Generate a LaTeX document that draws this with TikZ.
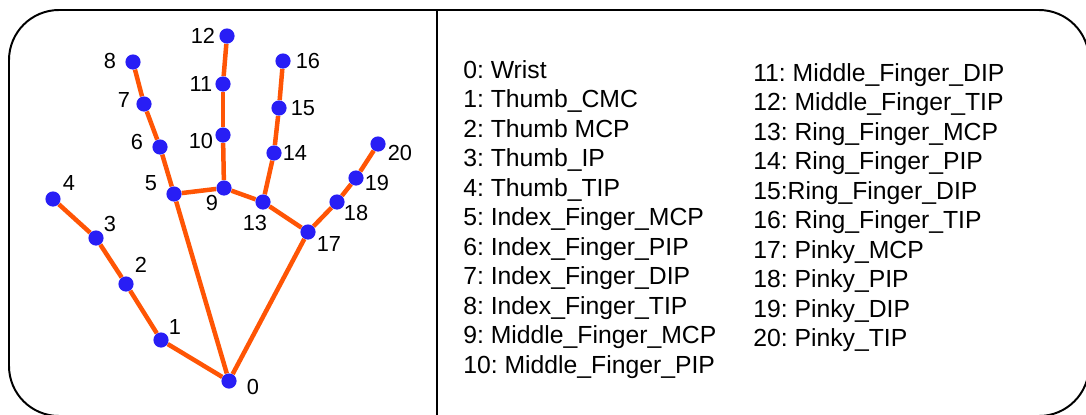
\documentclass[tikz,border=0pt]{standalone}
\usepackage{fontspec}
\setmainfont{Liberation Sans}
\usepackage{xcolor}
\usetikzlibrary{backgrounds}

\definecolor{boneorange}{RGB}{255,85,5}
\definecolor{jointblue}{RGB}{40,30,245}

\tikzset{
  joint/.style={circle, fill=jointblue, inner sep=0pt, minimum size=0.38cm},
  bone/.style={line width=3.2pt, boneorange},
  num/.style={inner sep=0pt, font=\fontsize{15.5}{18}\selectfont},
  row/.style={anchor=base west, inner sep=0pt,
    font=\fontsize{17.6}{20}\selectfont\frenchspacing},
  frame/.style={line width=1.4pt, black}
}

\begin{document}
\begin{tikzpicture}
  \useasboundingbox (0,0) rectangle (27.15,10.35);
  % Rahmen mit Trennlinie
  \draw[frame, rounded corners=1.25cm] (0.225,-0.05) rectangle (27.225,10.1);
  \draw[frame] (10.925,10.1) -- (10.925,-0.05);
  % Gelenkpunkte: Nummer / x / y / Versatz der Beschriftung
  \foreach \i/\x/\y/\dx/\dy in {
      0/5.725/0.825/0.6/-0.15,
      1/4.025/1.85/0.35/0.325,
      2/3.15/3.25/0.375/0.475,
      3/2.4/4.4/0.35/0.35,
      4/1.325/5.375/0.4/0.4,
      5/4.35/5.5/-0.575/0.275,
      6/4.0/6.675/-0.575/0.125,
      7/3.6/7.75/-0.5/0.1,
      8/3.325/8.8/-0.575/0.025,
      9/5.6/5.65/-0.3/-0.375,
      10/5.575/6.975/-0.55/-0.15,
      11/5.575/8.25/-0.55/0,
      12/5.675/9.45/-0.6/0,
      13/6.575/5.3/-0.2/-0.525,
      14/6.85/6.525/0.525/0,
      15/6.975/7.65/0.6/0,
      16/7.075/8.825/0.625/0,
      17/7.7/4.55/0.525/-0.3,
      18/8.425/5.3/0.475/-0.275,
      19/8.9/5.9/0.525/-0.125,
      20/9.45/6.75/0.55/-0.225}
  {
    \node[joint] (p\i) at (\x,\y) {};
    \node[num, xshift=\dx cm, yshift=\dy cm] (n\i) at (p\i) {\i};
  }
  % Knochen hinter den Punkten
  \begin{pgfonlayer}{background}
    \foreach \a/\b in {0/1, 1/2, 2/3, 3/4, 0/5, 5/6, 6/7, 7/8, 5/9, 9/10, 10/11,
        11/12, 9/13, 13/14, 14/15, 15/16, 13/17, 0/17, 17/18, 18/19, 19/20}
      \draw[bone] (p\a) -- (p\b);
  \end{pgfonlayer}
  % Legende, linke Spalte
  \foreach \i/\txt in {0/Wrist, 1/Thumb\_CMC, 2/Thumb MCP, 3/Thumb\_IP,
      4/Thumb\_TIP, 5/Index\_Finger\_MCP, 6/Index\_Finger\_PIP,
      7/Index\_Finger\_DIP, 8/Index\_Finger\_TIP, 9/Middle\_Finger\_MCP,
      10/Middle\_Finger\_PIP}
    \node[row] (r\i) at (11.575,{8.4-\i*0.7375}) {\i: \txt};
  % rechte Spalte
  \foreach \i/\txt in {11/~Middle\_Finger\_DIP, 12/~Middle\_Finger\_TIP,
      13/~Ring\_Finger\_MCP, 14/~Ring\_Finger\_PIP, 15/Ring\_Finger\_DIP,
      16/~Ring\_Finger\_TIP, 17/~Pinky\_MCP, 18/~Pinky\_PIP,
      19/~Pinky\_DIP, 20/~Pinky\_TIP}
    \node[row] (r\i) at (18.825,{8.325-(\i-11)*0.7375}) {\i:\txt};
\end{tikzpicture}
\end{document}
